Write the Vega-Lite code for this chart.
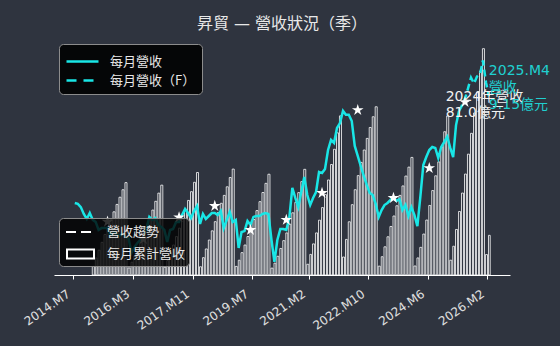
{
  "$schema": "https://vega.github.io/schema/vega-lite/v6.json",
  "width": 456,
  "height": 235,
  "autosize": "none",
  "padding": {"left": 54, "top": 40, "right": 50, "bottom": 71},
  "background": "#2f343f",
  "config": {"view": {"stroke": null}, "font": "DejaVu Sans, Noto Sans CJK TC"},
  "title": {"text": "昇貿 — 營收狀況（季）", "color": "#e8e8e8", "fontSize": 16, "fontWeight": "normal", "font": "DejaVu Sans, Noto Sans CJK TC", "anchor": "middle", "offset": 8},
  "datasets": {
    "actual": [
      {"date": "2014-07", "rev": 5.12}, {"date": "2014-08", "rev": 5.08}, {"date": "2014-09", "rev": 4.94}, {"date": "2014-10", "rev": 4.64}, {"date": "2014-11", "rev": 4.42}, {"date": "2014-12", "rev": 4.68},
      {"date": "2015-01", "rev": 4.38}, {"date": "2015-02", "rev": 4.29}, {"date": "2015-03", "rev": 3.94}, {"date": "2015-04", "rev": 4.02}, {"date": "2015-05", "rev": 4.02}, {"date": "2015-06", "rev": 4.02},
      {"date": "2015-07", "rev": 3.67}, {"date": "2015-08", "rev": 3.85}, {"date": "2015-09", "rev": 3.76}, {"date": "2015-10", "rev": 3.67}, {"date": "2015-11", "rev": 3.81}, {"date": "2015-12", "rev": 3.63},
      {"date": "2016-01", "rev": 3.59}, {"date": "2016-02", "rev": 2.93}, {"date": "2016-03", "rev": 3.19}, {"date": "2016-04", "rev": 3.37}, {"date": "2016-05", "rev": 3.50}, {"date": "2016-06", "rev": 3.63},
      {"date": "2016-07", "rev": 3.98}, {"date": "2016-08", "rev": 4.51}, {"date": "2016-09", "rev": 4.38}, {"date": "2016-10", "rev": 4.46}, {"date": "2016-11", "rev": 4.16}, {"date": "2016-12", "rev": 4.07},
      {"date": "2017-01", "rev": 3.94}, {"date": "2017-02", "rev": 3.41}, {"date": "2017-03", "rev": 3.94}, {"date": "2017-04", "rev": 3.98}, {"date": "2017-05", "rev": 4.29}, {"date": "2017-06", "rev": 4.29},
      {"date": "2017-07", "rev": 4.59}, {"date": "2017-08", "rev": 4.86}, {"date": "2017-09", "rev": 4.68}, {"date": "2017-10", "rev": 4.46}, {"date": "2017-11", "rev": 4.77}, {"date": "2017-12", "rev": 4.99},
      {"date": "2018-01", "rev": 4.20}, {"date": "2018-02", "rev": 4.64}, {"date": "2018-03", "rev": 4.42}, {"date": "2018-04", "rev": 4.55}, {"date": "2018-05", "rev": 4.68}, {"date": "2018-06", "rev": 4.68},
      {"date": "2018-07", "rev": 4.59}, {"date": "2018-08", "rev": 4.77}, {"date": "2018-09", "rev": 4.02}, {"date": "2018-10", "rev": 4.38}, {"date": "2018-11", "rev": 4.73}, {"date": "2018-12", "rev": 4.29},
      {"date": "2019-01", "rev": 4.38}, {"date": "2019-02", "rev": 3.15}, {"date": "2019-03", "rev": 3.85}, {"date": "2019-04", "rev": 3.89}, {"date": "2019-05", "rev": 4.33}, {"date": "2019-06", "rev": 4.16},
      {"date": "2019-07", "rev": 4.51}, {"date": "2019-08", "rev": 4.55}, {"date": "2019-09", "rev": 4.55}, {"date": "2019-10", "rev": 4.64}, {"date": "2019-11", "rev": 4.68}, {"date": "2019-12", "rev": 4.64},
      {"date": "2020-01", "rev": 3.50}, {"date": "2020-02", "rev": 2.54}, {"date": "2020-03", "rev": 3.50}, {"date": "2020-04", "rev": 3.98}, {"date": "2020-05", "rev": 3.98}, {"date": "2020-06", "rev": 3.94},
      {"date": "2020-07", "rev": 4.46}, {"date": "2020-08", "rev": 5.78}, {"date": "2020-09", "rev": 5.34}, {"date": "2020-10", "rev": 4.94}, {"date": "2020-11", "rev": 5.60}, {"date": "2020-12", "rev": 6.26},
      {"date": "2021-01", "rev": 5.47}, {"date": "2021-02", "rev": 5.03}, {"date": "2021-03", "rev": 5.34}, {"date": "2021-04", "rev": 5.60}, {"date": "2021-05", "rev": 6.48}, {"date": "2021-06", "rev": 6.43},
      {"date": "2021-07", "rev": 6.61}, {"date": "2021-08", "rev": 7.44}, {"date": "2021-09", "rev": 7.88}, {"date": "2021-10", "rev": 7.75}, {"date": "2021-11", "rev": 8.40}, {"date": "2021-12", "rev": 8.62},
      {"date": "2022-01", "rev": 9.15}, {"date": "2022-02", "rev": 8.98}, {"date": "2022-03", "rev": 8.98}, {"date": "2022-04", "rev": 8.71}, {"date": "2022-05", "rev": 7.62}, {"date": "2022-06", "rev": 7.18},
      {"date": "2022-07", "rev": 6.74}, {"date": "2022-08", "rev": 6.31}, {"date": "2022-09", "rev": 5.91}, {"date": "2022-10", "rev": 5.56}, {"date": "2022-11", "rev": 5.47}, {"date": "2022-12", "rev": 5.08},
      {"date": "2023-01", "rev": 4.51}, {"date": "2023-02", "rev": 4.81}, {"date": "2023-03", "rev": 5.03}, {"date": "2023-04", "rev": 5.12}, {"date": "2023-05", "rev": 5.25}, {"date": "2023-06", "rev": 5.34},
      {"date": "2023-07", "rev": 5.21}, {"date": "2023-08", "rev": 5.29}, {"date": "2023-09", "rev": 4.81}, {"date": "2023-10", "rev": 5.03}, {"date": "2023-11", "rev": 4.55}, {"date": "2023-12", "rev": 4.94},
      {"date": "2024-01", "rev": 4.59}, {"date": "2024-02", "rev": 4.11}, {"date": "2024-03", "rev": 5.38}, {"date": "2024-04", "rev": 6.78}, {"date": "2024-05", "rev": 7.13}, {"date": "2024-06", "rev": 7.44},
      {"date": "2024-07", "rev": 7.57}, {"date": "2024-08", "rev": 7.53}, {"date": "2024-09", "rev": 7.09}, {"date": "2024-10", "rev": 7.57}, {"date": "2024-11", "rev": 7.79}, {"date": "2024-12", "rev": 8.02},
      {"date": "2025-01", "rev": 7.53}, {"date": "2025-02", "rev": 7.13}, {"date": "2025-03", "rev": 8.53}, {"date": "2025-04", "rev": 9.15}
    ],
    "forecast": [
      {"date": "2025-04", "rev": 9.15}, {"date": "2025-05", "rev": 9.39}, {"date": "2025-06", "rev": 9.69}, {"date": "2025-07", "rev": 10.13}, {"date": "2025-08", "rev": 10.61}, {"date": "2025-09", "rev": 10.35},
      {"date": "2025-10", "rev": 10.66}, {"date": "2025-11", "rev": 10.75}, {"date": "2025-12", "rev": 11.36}, {"date": "2026-01", "rev": 10.40}, {"date": "2026-02", "rev": 9.80}
    ],
    "cumulative": [
      {"date": "2015-01", "cum": 4.38}, {"date": "2015-02", "cum": 8.67}, {"date": "2015-03", "cum": 12.61}, {"date": "2015-04", "cum": 16.63}, {"date": "2015-05", "cum": 20.65}, {"date": "2015-06", "cum": 24.67},
      {"date": "2015-07", "cum": 28.34}, {"date": "2015-08", "cum": 32.19}, {"date": "2015-09", "cum": 35.95}, {"date": "2015-10", "cum": 39.62}, {"date": "2015-11", "cum": 43.43}, {"date": "2015-12", "cum": 47.06},
      {"date": "2016-01", "cum": 3.59}, {"date": "2016-02", "cum": 6.52}, {"date": "2016-03", "cum": 9.71}, {"date": "2016-04", "cum": 13.08}, {"date": "2016-05", "cum": 16.58}, {"date": "2016-06", "cum": 20.21},
      {"date": "2016-07", "cum": 24.19}, {"date": "2016-08", "cum": 28.70}, {"date": "2016-09", "cum": 33.08}, {"date": "2016-10", "cum": 37.54}, {"date": "2016-11", "cum": 41.70}, {"date": "2016-12", "cum": 45.77},
      {"date": "2017-01", "cum": 3.94}, {"date": "2017-02", "cum": 7.35}, {"date": "2017-03", "cum": 11.29}, {"date": "2017-04", "cum": 15.27}, {"date": "2017-05", "cum": 19.56}, {"date": "2017-06", "cum": 23.85},
      {"date": "2017-07", "cum": 28.44}, {"date": "2017-08", "cum": 33.30}, {"date": "2017-09", "cum": 37.98}, {"date": "2017-10", "cum": 42.44}, {"date": "2017-11", "cum": 47.21}, {"date": "2017-12", "cum": 52.20},
      {"date": "2018-01", "cum": 4.20}, {"date": "2018-02", "cum": 8.84}, {"date": "2018-03", "cum": 13.26}, {"date": "2018-04", "cum": 17.81}, {"date": "2018-05", "cum": 22.49}, {"date": "2018-06", "cum": 27.17},
      {"date": "2018-07", "cum": 31.76}, {"date": "2018-08", "cum": 36.53}, {"date": "2018-09", "cum": 40.55}, {"date": "2018-10", "cum": 44.93}, {"date": "2018-11", "cum": 49.66}, {"date": "2018-12", "cum": 53.95},
      {"date": "2019-01", "cum": 4.38}, {"date": "2019-02", "cum": 7.53}, {"date": "2019-03", "cum": 11.38}, {"date": "2019-04", "cum": 15.27}, {"date": "2019-05", "cum": 19.60}, {"date": "2019-06", "cum": 23.76},
      {"date": "2019-07", "cum": 28.27}, {"date": "2019-08", "cum": 32.82}, {"date": "2019-09", "cum": 37.37}, {"date": "2019-10", "cum": 42.01}, {"date": "2019-11", "cum": 46.69}, {"date": "2019-12", "cum": 51.33},
      {"date": "2020-01", "cum": 3.50}, {"date": "2020-02", "cum": 6.04}, {"date": "2020-03", "cum": 9.54}, {"date": "2020-04", "cum": 13.52}, {"date": "2020-05", "cum": 17.50}, {"date": "2020-06", "cum": 21.44},
      {"date": "2020-07", "cum": 25.90}, {"date": "2020-08", "cum": 31.68}, {"date": "2020-09", "cum": 37.02}, {"date": "2020-10", "cum": 41.96}, {"date": "2020-11", "cum": 47.56}, {"date": "2020-12", "cum": 53.82},
      {"date": "2021-01", "cum": 5.47}, {"date": "2021-02", "cum": 10.50}, {"date": "2021-03", "cum": 15.84}, {"date": "2021-04", "cum": 21.44}, {"date": "2021-05", "cum": 27.92}, {"date": "2021-06", "cum": 34.35},
      {"date": "2021-07", "cum": 40.96}, {"date": "2021-08", "cum": 48.40}, {"date": "2021-09", "cum": 56.28}, {"date": "2021-10", "cum": 64.03}, {"date": "2021-11", "cum": 72.43}, {"date": "2021-12", "cum": 81.05},
      {"date": "2022-01", "cum": 9.15}, {"date": "2022-02", "cum": 18.13}, {"date": "2022-03", "cum": 27.11}, {"date": "2022-04", "cum": 35.82}, {"date": "2022-05", "cum": 43.44}, {"date": "2022-06", "cum": 50.62},
      {"date": "2022-07", "cum": 57.36}, {"date": "2022-08", "cum": 63.67}, {"date": "2022-09", "cum": 69.58}, {"date": "2022-10", "cum": 75.14}, {"date": "2022-11", "cum": 80.61}, {"date": "2022-12", "cum": 85.69},
      {"date": "2023-01", "cum": 4.51}, {"date": "2023-02", "cum": 9.32}, {"date": "2023-03", "cum": 14.35}, {"date": "2023-04", "cum": 19.47}, {"date": "2023-05", "cum": 24.72}, {"date": "2023-06", "cum": 30.06},
      {"date": "2023-07", "cum": 35.27}, {"date": "2023-08", "cum": 40.56}, {"date": "2023-09", "cum": 45.37}, {"date": "2023-10", "cum": 50.40}, {"date": "2023-11", "cum": 54.95}, {"date": "2023-12", "cum": 59.89},
      {"date": "2024-01", "cum": 4.59}, {"date": "2024-02", "cum": 8.70}, {"date": "2024-03", "cum": 14.08}, {"date": "2024-04", "cum": 20.86}, {"date": "2024-05", "cum": 27.99}, {"date": "2024-06", "cum": 35.43},
      {"date": "2024-07", "cum": 43.00}, {"date": "2024-08", "cum": 50.53}, {"date": "2024-09", "cum": 57.62}, {"date": "2024-10", "cum": 65.19}, {"date": "2024-11", "cum": 72.98}, {"date": "2024-12", "cum": 81.00},
      {"date": "2025-01", "cum": 7.53}, {"date": "2025-02", "cum": 14.66}, {"date": "2025-03", "cum": 23.19}, {"date": "2025-04", "cum": 32.34}, {"date": "2025-05", "cum": 41.73}, {"date": "2025-06", "cum": 51.42},
      {"date": "2025-07", "cum": 61.55}, {"date": "2025-08", "cum": 72.16}, {"date": "2025-09", "cum": 82.51}, {"date": "2025-10", "cum": 93.17}, {"date": "2025-11", "cum": 103.92}, {"date": "2025-12", "cum": 115.28},
      {"date": "2026-01", "cum": 10.40}, {"date": "2026-02", "cum": 20.20}
    ],
    "stars": [
      {"date": "2015-06", "val": 4.30}, {"date": "2016-06", "val": 3.54}, {"date": "2017-06", "val": 4.49}, {"date": "2018-06", "val": 4.99}, {"date": "2019-06", "val": 3.94},
      {"date": "2020-06", "val": 4.38}, {"date": "2021-06", "val": 5.56}, {"date": "2022-06", "val": 9.19}, {"date": "2023-06", "val": 5.34}, {"date": "2024-06", "val": 6.65}, {"date": "2025-06", "val": 9.54}
    ],
    "note2024": [{"date": "2024-12", "cum": 81.0, "label": "2024年營收\n81.0億元"}],
    "note2025": [{"date": "2026-02", "rev": 9.8, "label": "2025.M4\n營收\n9.15億元"}]
  },
  "layer": [
    {
      "data": {"name": "cumulative"},
      "mark": {"type": "bar", "fill": "#2f343f", "stroke": "#ffffff", "strokeWidth": 0.8},
      "encoding": {
        "x": {
          "field": "date", "type": "temporal", "timeUnit": "utcyearmonth",
          "scale": {"type": "utc", "domain": [{"year": 2013, "month": 12, "date": 16, "utc": true}, {"year": 2026, "month": 9, "date": 19, "utc": true}]},
          "axis": {
            "title": null,
            "values": [
              {"year": 2014, "month": 7, "date": 1, "utc": true}, {"year": 2016, "month": 3, "date": 1, "utc": true},
              {"year": 2017, "month": 11, "date": 1, "utc": true}, {"year": 2019, "month": 7, "date": 1, "utc": true},
              {"year": 2021, "month": 2, "date": 1, "utc": true}, {"year": 2022, "month": 10, "date": 1, "utc": true},
              {"year": 2024, "month": 6, "date": 1, "utc": true}, {"year": 2026, "month": 2, "date": 1, "utc": true}
            ],
            "labelExpr": "utcFormat(datum.value, '%Y') + '.M' + utcFormat(datum.value, '%-m')",
            "labelAngle": -35, "labelAlign": "right", "labelBaseline": "top",
            "labelFontSize": 12, "labelColor": "#e0e0e0", "labelFont": "DejaVu Sans",
            "labelPadding": 9, "labelOffset": -8, "labelFlush": false, "labelOverlap": false,
            "domainColor": "#ffffff", "domainWidth": 1, "tickColor": "#ffffff", "tickSize": 4, "grid": false
          }
        },
        "y": {"field": "cum", "type": "quantitative", "scale": {"domain": [0, 119.7]}, "axis": null}
      }
    },
    {
      "data": {"values": []},
      "mark": {"type": "point", "filled": false, "opacity": 0},
      "encoding": {
        "shape": {
          "datum": "每月累計營收", "type": "nominal",
          "scale": {"domain": ["營收趨勢", "每月累計營收"], "range": ["M-0.7,0H0.3M0.8,0H1.8", "M-0.6,-0.45H2.1V0.45H-0.6Z"]},
          "legend": {
            "title": null, "orient": "none", "legendX": 5, "legendY": 178,
            "fillColor": "rgba(0,0,0,0.8)", "strokeColor": "#8c8c8c", "cornerRadius": 4, "padding": 3,
            "labelColor": "#e8e8e8", "labelFont": "Noto Sans CJK TC", "labelFontSize": 13,
            "symbolSize": 400, "symbolStrokeWidth": 2, "symbolStrokeColor": "#ffffff", "symbolFillColor": "transparent", "symbolOpacity": 1,
            "rowPadding": 4, "labelOffset": 23
          }
        }
      }
    },
    {
      "data": {"name": "actual"},
      "mark": {"type": "line", "strokeWidth": 2.5},
      "encoding": {
        "x": {"field": "date", "type": "temporal", "timeUnit": "utcyearmonth", "bandPosition": 0.5,
          "axis": {
            "title": null,
            "values": [
              {"year": 2014, "month": 7, "date": 1, "utc": true}, {"year": 2016, "month": 3, "date": 1, "utc": true},
              {"year": 2017, "month": 11, "date": 1, "utc": true}, {"year": 2019, "month": 7, "date": 1, "utc": true},
              {"year": 2021, "month": 2, "date": 1, "utc": true}, {"year": 2022, "month": 10, "date": 1, "utc": true},
              {"year": 2024, "month": 6, "date": 1, "utc": true}, {"year": 2026, "month": 2, "date": 1, "utc": true}
            ],
            "labelExpr": "utcFormat(datum.value, '%Y') + '.M' + utcFormat(datum.value, '%-m')",
            "labelAngle": -35, "labelAlign": "right", "labelBaseline": "top",
            "labelFontSize": 12, "labelColor": "#e0e0e0", "labelFont": "DejaVu Sans",
            "labelPadding": 9, "labelOffset": -8, "labelFlush": false, "labelOverlap": false,
            "domainColor": "#ffffff", "domainWidth": 1, "tickColor": "#ffffff", "tickSize": 4, "grid": false
          }},
        "y": {"field": "rev", "type": "quantitative", "scale": {"domain": [1.967, 12.256]}, "axis": null},
        "color": {
          "datum": "每月營收", "type": "nominal",
          "scale": {"domain": ["每月營收", "每月營收（F）"], "range": ["#19e6e6", "#19e6e6"]},
          "legend": {
            "title": null, "orient": "none", "legendX": 5, "legendY": 4,
            "fillColor": "rgba(0,0,0,0.88)", "strokeColor": "#8c8c8c", "cornerRadius": 4, "padding": 6,
            "labelColor": "#e8e8e8", "labelFont": "Noto Sans CJK TC", "labelFontSize": 13,
            "symbolType": "M-1,0H2.2", "symbolSize": 400, "symbolStrokeWidth": 2.5,
            "rowPadding": 0, "labelOffset": 22,
            "encode": {"symbols": {"update": {
              "strokeDash": {"signal": "datum.index === 1 ? [10,7] : [1,0]"},
              "opacity": {"value": 1}
            }}}
          }
        }
      }
    },
    {
      "data": {"name": "forecast"},
      "mark": {"type": "line", "strokeWidth": 2.5, "strokeDash": [7, 4]},
      "encoding": {
        "x": {"field": "date", "type": "temporal", "timeUnit": "utcyearmonth", "bandPosition": 0.5,
          "axis": {
            "title": null,
            "values": [
              {"year": 2014, "month": 7, "date": 1, "utc": true}, {"year": 2016, "month": 3, "date": 1, "utc": true},
              {"year": 2017, "month": 11, "date": 1, "utc": true}, {"year": 2019, "month": 7, "date": 1, "utc": true},
              {"year": 2021, "month": 2, "date": 1, "utc": true}, {"year": 2022, "month": 10, "date": 1, "utc": true},
              {"year": 2024, "month": 6, "date": 1, "utc": true}, {"year": 2026, "month": 2, "date": 1, "utc": true}
            ],
            "labelExpr": "utcFormat(datum.value, '%Y') + '.M' + utcFormat(datum.value, '%-m')",
            "labelAngle": -35, "labelAlign": "right", "labelBaseline": "top",
            "labelFontSize": 12, "labelColor": "#e0e0e0", "labelFont": "DejaVu Sans",
            "labelPadding": 9, "labelOffset": -8, "labelFlush": false, "labelOverlap": false,
            "domainColor": "#ffffff", "domainWidth": 1, "tickColor": "#ffffff", "tickSize": 4, "grid": false
          }},
        "y": {"field": "rev", "type": "quantitative", "scale": {"domain": [1.967, 12.256]}, "axis": null},
        "color": {"datum": "每月營收（F）", "type": "nominal"}
      }
    },
    {
      "data": {"name": "stars"},
      "mark": {"type": "point", "filled": true, "fill": "#ffffff", "opacity": 1, "size": 150, "strokeWidth": 0,
        "shape": "M0,-1L0.2245,-0.309L0.951,-0.309L0.363,0.118L0.588,0.809L0,0.382L-0.588,0.809L-0.363,0.118L-0.951,-0.309L-0.2245,-0.309Z"},
      "encoding": {
        "x": {"field": "date", "type": "temporal", "timeUnit": "utcyearmonth", "bandPosition": 0.5,
          "axis": {
            "title": null,
            "values": [
              {"year": 2014, "month": 7, "date": 1, "utc": true}, {"year": 2016, "month": 3, "date": 1, "utc": true},
              {"year": 2017, "month": 11, "date": 1, "utc": true}, {"year": 2019, "month": 7, "date": 1, "utc": true},
              {"year": 2021, "month": 2, "date": 1, "utc": true}, {"year": 2022, "month": 10, "date": 1, "utc": true},
              {"year": 2024, "month": 6, "date": 1, "utc": true}, {"year": 2026, "month": 2, "date": 1, "utc": true}
            ],
            "labelExpr": "utcFormat(datum.value, '%Y') + '.M' + utcFormat(datum.value, '%-m')",
            "labelAngle": -35, "labelAlign": "right", "labelBaseline": "top",
            "labelFontSize": 12, "labelColor": "#e0e0e0", "labelFont": "DejaVu Sans",
            "labelPadding": 9, "labelOffset": -8, "labelFlush": false, "labelOverlap": false,
            "domainColor": "#ffffff", "domainWidth": 1, "tickColor": "#ffffff", "tickSize": 4, "grid": false
          }},
        "y": {"field": "val", "type": "quantitative", "scale": {"domain": [1.967, 12.256]}, "axis": null}
      }
    },
    {
      "data": {"name": "note2024"},
      "mark": {"type": "text", "align": "left", "baseline": "bottom", "dy": -12, "fontSize": 14, "lineBreak": "\n", "lineHeight": 16, "color": "#f2f2f2", "font": "DejaVu Sans, Noto Sans CJK TC"},
      "encoding": {
        "x": {"field": "date", "type": "temporal", "timeUnit": "utcyearmonth", "bandPosition": 0,
          "axis": {
            "title": null,
            "values": [
              {"year": 2014, "month": 7, "date": 1, "utc": true}, {"year": 2016, "month": 3, "date": 1, "utc": true},
              {"year": 2017, "month": 11, "date": 1, "utc": true}, {"year": 2019, "month": 7, "date": 1, "utc": true},
              {"year": 2021, "month": 2, "date": 1, "utc": true}, {"year": 2022, "month": 10, "date": 1, "utc": true},
              {"year": 2024, "month": 6, "date": 1, "utc": true}, {"year": 2026, "month": 2, "date": 1, "utc": true}
            ],
            "labelExpr": "utcFormat(datum.value, '%Y') + '.M' + utcFormat(datum.value, '%-m')",
            "labelAngle": -35, "labelAlign": "right", "labelBaseline": "top",
            "labelFontSize": 12, "labelColor": "#e0e0e0", "labelFont": "DejaVu Sans",
            "labelPadding": 9, "labelOffset": -8, "labelFlush": false, "labelOverlap": false,
            "domainColor": "#ffffff", "domainWidth": 1, "tickColor": "#ffffff", "tickSize": 4, "grid": false
          }},
        "y": {"field": "cum", "type": "quantitative", "scale": {"domain": [0, 119.7]}, "axis": null},
        "text": {"field": "label"}
      }
    },
    {
      "data": {"name": "note2025"},
      "mark": {"type": "text", "align": "left", "baseline": "middle", "dy": -25, "fontSize": 14, "lineBreak": "\n", "lineHeight": 17, "color": "#20d0d0", "font": "DejaVu Sans, Noto Sans CJK TC"},
      "encoding": {
        "x": {"field": "date", "type": "temporal", "timeUnit": "utcyearmonth", "bandPosition": 0.5,
          "axis": {
            "title": null,
            "values": [
              {"year": 2014, "month": 7, "date": 1, "utc": true}, {"year": 2016, "month": 3, "date": 1, "utc": true},
              {"year": 2017, "month": 11, "date": 1, "utc": true}, {"year": 2019, "month": 7, "date": 1, "utc": true},
              {"year": 2021, "month": 2, "date": 1, "utc": true}, {"year": 2022, "month": 10, "date": 1, "utc": true},
              {"year": 2024, "month": 6, "date": 1, "utc": true}, {"year": 2026, "month": 2, "date": 1, "utc": true}
            ],
            "labelExpr": "utcFormat(datum.value, '%Y') + '.M' + utcFormat(datum.value, '%-m')",
            "labelAngle": -35, "labelAlign": "right", "labelBaseline": "top",
            "labelFontSize": 12, "labelColor": "#e0e0e0", "labelFont": "DejaVu Sans",
            "labelPadding": 9, "labelOffset": -8, "labelFlush": false, "labelOverlap": false,
            "domainColor": "#ffffff", "domainWidth": 1, "tickColor": "#ffffff", "tickSize": 4, "grid": false
          }},
        "y": {"field": "rev", "type": "quantitative", "scale": {"domain": [1.967, 12.256]}, "axis": null},
        "text": {"field": "label"}
      }
    }
  ],
  "resolve": {"scale": {"y": "independent"}}
}
